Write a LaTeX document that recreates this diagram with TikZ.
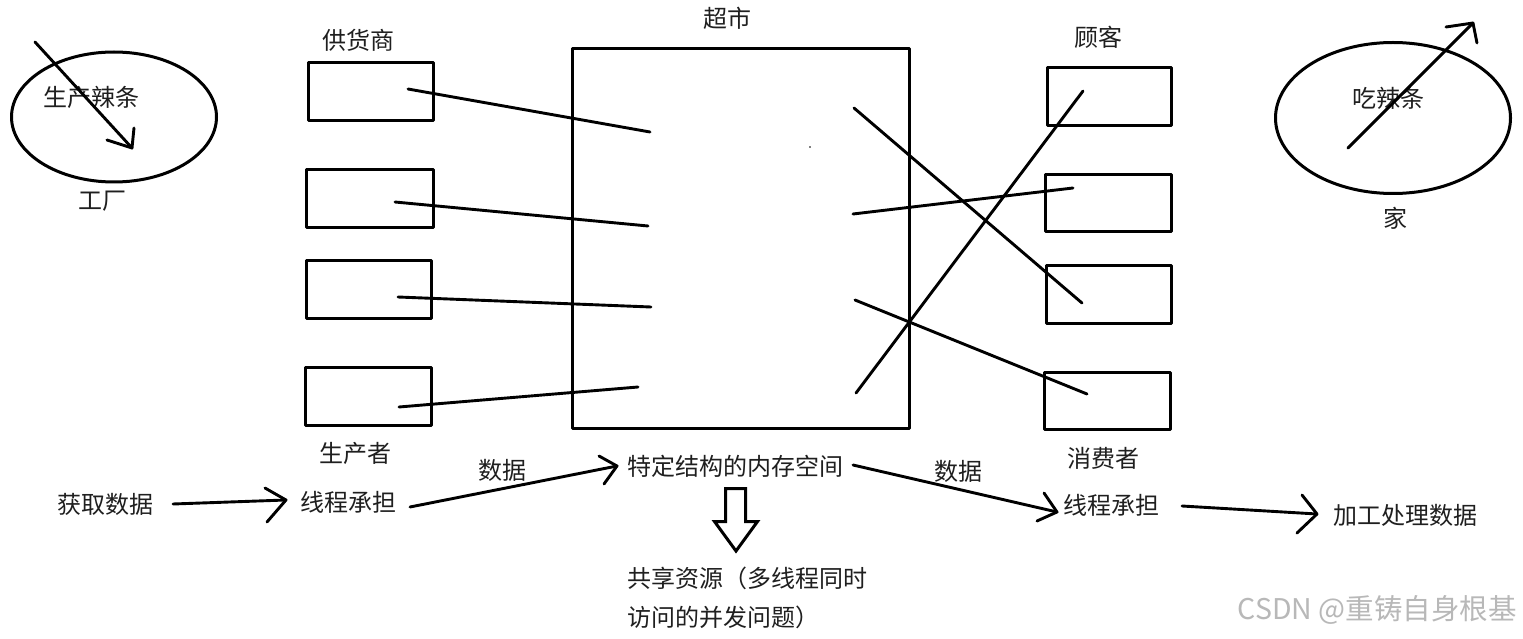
\documentclass[tikz,border=0pt]{standalone}
\usepackage{fontspec}
\setmainfont{Noto Sans CJK SC}
\usetikzlibrary{shapes.geometric}
\begin{document}
\begin{tikzpicture}[x=1pt,y=-1pt,line join=round,line cap=round]
\useasboundingbox[fill=white] (0,0) rectangle (1523,639);
\tikzset{
  box/.style={draw,line width=3.2pt,inner sep=0pt,minimum width=125pt,minimum height=58pt},
  oval/.style={draw,ellipse,line width=3pt,inner sep=0pt},
  lbl/.style={inner sep=0pt,text=black!88,font=\fontsize{24}{30}\selectfont},
  wire/.style={line width=2.9pt},
  mark2/.style={inner sep=0pt,text=black!28,font=\fontsize{28.5}{32}\selectfont},
}
% ellipses
\node[oval,minimum width=205pt,minimum height=130pt] (fac) at (114,117) {};
\node[oval,minimum width=235pt,minimum height=151pt] (home) at (1393,118) {};
\node[lbl] (t1) at (91,97) {生产辣条};
\node[lbl] (t2) at (102,201) {工厂};
\node[lbl] (t3) at (1388,98) {吃辣条};
\node[lbl] (t4) at (1395,218) {家};
% arrows inside ellipses
\coordinate (fa0) at (35,42); \coordinate (fa1) at (132,148);
\coordinate (fb1) at (107,140); \coordinate (fb2) at (134,128);
\draw[wire] (fa0) -- (fa1);
\draw[wire] (fb1) -- (fa1) -- (fb2);
\coordinate (ha0) at (1348,148); \coordinate (ha1) at (1473,23);
\coordinate (hb1) at (1446,27); \coordinate (hb2) at (1477,43);
\draw[wire] (ha0) -- (ha1);
\draw[wire] (hb1) -- (ha1) -- (hb2);
% supplier boxes
\node[box] (p1) at (371,91.5) {};
\node[box,minimum width=127pt] (p2) at (370,198.5) {};
\node[box] (p3) at (369,289.5) {};
\node[box,minimum width=126pt] (p4) at (368.5,396.5) {};
\node[lbl] (t5) at (358,40) {供货商};
\node[lbl] (t6) at (355,453) {生产者};
% supermarket
\node[draw,line width=3.2pt,inner sep=0pt,minimum width=337pt,minimum height=380pt] (sm) at (741,238.5) {};
\node[lbl] (t7) at (727,18) {超市};
\fill (810,147) circle (0.8);
% customer boxes
\node[box,minimum width=124pt] (c1) at (1109.5,96.5) {};
\node[box,minimum width=126pt,minimum height=57pt] (c2) at (1108.5,203) {};
\node[box] (c3) at (1109,294.5) {};
\node[box,minimum width=126pt,minimum height=57pt] (c4) at (1107.5,401) {};
\node[lbl] (t8) at (1098,37) {顾客};
\node[lbl] (t9) at (1103,458) {消费者};
% producer lines
\coordinate (s1a) at (408,89);  \coordinate (s1b) at (650,132);
\coordinate (s2a) at (395,202); \coordinate (s2b) at (648,226);
\coordinate (s3a) at (398,297); \coordinate (s3b) at (651,307);
\coordinate (s4a) at (399,407); \coordinate (s4b) at (638,387);
\draw[wire] (s1a) -- (s1b);
\draw[wire] (s2a) -- (s2b);
\draw[wire] (s3a) -- (s3b);
\draw[wire] (s4a) -- (s4b);
% consumer lines
\coordinate (r1a) at (854,108); \coordinate (r1b) at (1082,303);
\coordinate (r2a) at (853,214); \coordinate (r2b) at (1073,188);
\coordinate (r3a) at (855,300); \coordinate (r3b) at (1087,394);
\coordinate (r4a) at (856,393); \coordinate (r4b) at (1083,91);
\draw[wire] (r1a) -- (r1b);
\draw[wire] (r2a) -- (r2b);
\draw[wire] (r3a) -- (r3b);
\draw[wire] (r4a) -- (r4b);
% bottom flow
\node[lbl] (g1) at (105,504) {获取数据};
\node[lbl] (g2) at (348,502) {线程承担};
\node[lbl] (g3) at (502,470) {数据};
\node[lbl] (g4) at (735,466) {特定结构的内存空间};
\node[lbl] (g5) at (958,471) {数据};
\node[lbl] (g6) at (1111,505) {线程承担};
\node[lbl] (g7) at (1405,515) {加工处理数据};
\node[lbl,anchor=west] (g8) at (627,578) {共享资源（多线程同时};
\node[lbl,anchor=west] (g9) at (627,617) {访问的并发问题）};
% arrows
\coordinate (a1s) at (173,504); \coordinate (a1t) at (286,500);
\coordinate (a1u) at (265,488); \coordinate (a1d) at (267,522);
\draw[wire] (a1s) -- (a1t); \draw[wire] (a1u) -- (a1t) -- (a1d);
\coordinate (a2s) at (410,507); \coordinate (a2t) at (617,466);
\coordinate (a2u) at (599,456); \coordinate (a2d) at (604,484);
\draw[wire] (a2s) -- (a2t); \draw[wire] (a2u) -- (a2t) -- (a2d);
\coordinate (a3s) at (853,465); \coordinate (a3t) at (1057,512);
\coordinate (a3u) at (1044,493); \coordinate (a3d) at (1037,521);
\draw[wire] (a3s) -- (a3t); \draw[wire] (a3u) -- (a3t) -- (a3d);
\coordinate (a4s) at (1182,506); \coordinate (a4t) at (1317,514);
\coordinate (a4u) at (1302,495); \coordinate (a4d) at (1297,533);
\draw[wire] (a4s) -- (a4t); \draw[wire] (a4u) -- (a4t) -- (a4d);
% hollow arrow
\draw[line width=3pt,line cap=butt,line join=miter] (725.5,488.5) -- (745.5,488.5) -- (745.5,521.5) -- (757.5,521.5) -- (736,551) -- (714.5,521.5) -- (725.5,521.5) -- cycle;
% watermark
\node[mark2,anchor=east] (wm) at (1517,610) {CSDN @重铸自身根基};
\end{tikzpicture}
\end{document}
